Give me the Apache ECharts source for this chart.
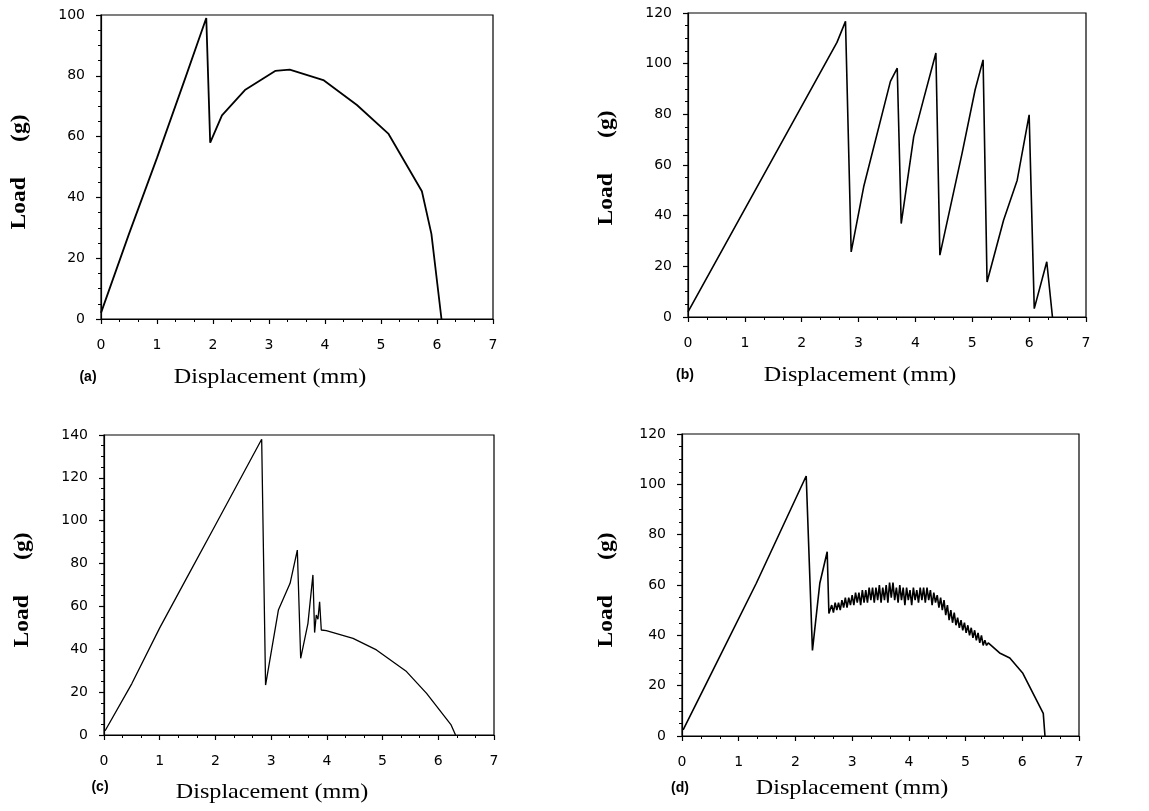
<!DOCTYPE html>
<html><head><meta charset="utf-8">
<script src="https://cdn.jsdelivr.net/npm/echarts@6/dist/echarts.min.js"></script>
<style>html,body{margin:0;padding:0;background:#fff}#c{width:1149px;height:811px}</style>
</head><body><div id="c"></div>
<script>
// Panel (a)
const dispA = [0, 0.5, 1.0, 1.5, 1.88, 1.95, 2.16, 2.57, 3.11, 3.37, 3.97, 4.57, 5.13, 5.73, 5.9, 6.08];
const loadA = [2, 28, 53, 79, 99, 58, 67, 75.3, 81.6, 82, 78.6, 70.4, 61, 42, 28, 0];
// Panel (b)
const dispB = [0, 2.62, 2.77, 2.87, 3.09, 3.56, 3.68, 3.75, 3.97, 4.14, 4.36, 4.43, 4.82, 5.05, 5.19, 5.26, 5.55, 5.79, 6.0, 6.09, 6.31, 6.41];
const loadB = [2, 108.4, 116.7, 25.7, 51.4, 93, 98.2, 36.9, 71.2, 85.7, 104.2, 24.4, 64.6, 89.7, 101.5, 13.8, 38.2, 54, 79.8, 3.3, 21.8, 0];
// Panel (c)
const dispC = [0.02, 0.5, 1.0, 1.5, 2.0, 2.83, 2.9, 3.13, 3.34, 3.47, 3.53, 3.66, 3.75, 3.78, 3.81, 3.84, 3.87, 3.9, 3.99, 4.47, 4.89, 5.43, 5.79, 6.23, 6.31];
const loadC = [2, 24, 50, 74, 98, 138, 23.3, 58.3, 70.8, 86.3, 35.8, 52, 74.7, 47.8, 56, 54, 62.2, 49, 48.7, 45.1, 39.7, 29.6, 19.4, 4.7, 0];
// Panel (d)
const dispD = [0.02, 0.43, 1.31, 2.19, 2.3, 2.43, 2.56, 2.59,
  2.62, 2.64, 2.67, 2.70, 2.73, 2.76, 2.79, 2.82, 2.85, 2.88, 2.91, 2.94, 2.97, 3.00,
  3.03, 3.06, 3.09, 3.12, 3.15, 3.18, 3.21, 3.24, 3.27, 3.30, 3.33, 3.36, 3.39, 3.42,
  3.45, 3.48, 3.51, 3.54, 3.57, 3.60, 3.63, 3.66, 3.69, 3.72, 3.75, 3.78, 3.81, 3.84,
  3.87, 3.90, 3.93, 3.96, 3.99, 4.02, 4.05, 4.08, 4.11, 4.14, 4.17, 4.20, 4.23, 4.26,
  4.29, 4.32, 4.35, 4.38, 4.41, 4.44, 4.47, 4.50, 4.53, 4.56, 4.59, 4.62, 4.65, 4.68,
  4.71, 4.74, 4.77, 4.80, 4.83, 4.86, 4.89, 4.92, 4.95, 4.98, 5.01, 5.04, 5.07, 5.10,
  5.13, 5.16, 5.19, 5.22, 5.25, 5.28, 5.31, 5.34, 5.37, 5.40, 5.45, 5.55, 5.6, 5.78,
  6.01, 6.37, 6.4];
const loadD = [2.4, 20.9, 60.7, 103.3, 34, 60.7, 73.2, 48.7,
  48, 52, 49, 53, 50, 53, 50, 54, 51, 55, 51, 55, 52, 56,
  52, 57, 53, 57, 52, 58, 53, 58, 53, 59, 54, 59, 53, 59,
  54, 60, 53, 59, 54, 60, 53, 61, 55, 61, 54, 59, 53, 60,
  54, 59, 52, 59, 54, 58, 52, 59, 54, 58, 53, 59, 54, 59,
  53, 59, 54, 58, 52, 57, 53, 56, 51, 55, 50, 54, 48, 52,
  46, 50, 45, 49, 44, 47, 43, 46, 42, 45, 41, 44, 40, 43,
  39, 42, 38, 41, 37, 40, 36, 38, 36, 37, 36, 34, 33, 31,
  24.9, 9, 0];

const panelLabels = ['(a)', '(b)', '(c)', '(d)'];
const xTitle = 'Displacement (mm)';
const yTitle = 'Load      (g)';
const yMaxes = [100, 120, 140, 120];
const yStep = 20;
const xMax = 7, xStep = 1;

const seriesX = [dispA, dispB, dispC, dispD];
const seriesY = [loadA, loadB, loadC, loadD];

const grids = [
  {left: 101, top: 15, width: 392, height: 304},
  {left: 688, top: 13, width: 398, height: 304},
  {left: 104, top: 435, width: 390, height: 300},
  {left: 682, top: 434, width: 397, height: 302}
];
const lineW = [1.8, 1.6, 1.3, 1.6];
const labelPos = [
  {lx: 88, ly: 377, dx: 270, dy: 377, yx: 20, yy: 172},
  {lx: 685, ly: 375, dx: 860, dy: 375, yx: 607, yy: 168},
  {lx: 100, ly: 787, dx: 272, dy: 792, yx: 23, yy: 590},
  {lx: 680, ly: 788, dx: 852, dy: 788, yx: 607, yy: 590}
];

const chart = echarts.init(document.getElementById('c'), null, {renderer: 'canvas'});
const axisCommon = {
  axisLine: {show: true, onZero: false, lineStyle: {color: '#000', width: 1.2}},
  axisTick: {show: true, inside: false, length: 5, lineStyle: {color: '#000', width: 1.2}},
  minorTick: {show: true, length: 3, lineStyle: {color: '#000', width: 1}},
  splitLine: {show: false},
  axisLabel: {color: '#000', fontFamily: 'DejaVu Sans, sans-serif', fontSize: 14}
};
const option = {
  animation: false,
  backgroundColor: '#fff',
  grid: grids.map(g => Object.assign({show: true, borderColor: '#000', borderWidth: 1.2, backgroundColor: 'transparent'}, g)),
  xAxis: grids.map((g, i) => Object.assign({}, axisCommon, {
    type: 'value', gridIndex: i, min: 0, max: xMax, interval: xStep,
    minorTick: Object.assign({}, axisCommon.minorTick, {splitNumber: 3}),
    axisLabel: Object.assign({}, axisCommon.axisLabel, {margin: 19})
  })),
  yAxis: grids.map((g, i) => Object.assign({}, axisCommon, {
    type: 'value', gridIndex: i, min: 0, max: yMaxes[i], interval: yStep,
    minorTick: Object.assign({}, axisCommon.minorTick, {splitNumber: 4}),
    axisLabel: Object.assign({}, axisCommon.axisLabel, {margin: 16})
  })),
  series: seriesX.map((xs, i) => ({
    type: 'line', xAxisIndex: i, yAxisIndex: i, showSymbol: false, symbol: 'none',
    lineStyle: {color: '#000', width: lineW[i]},
    data: xs.map((x, j) => [x, seriesY[i][j]])
  })),
  graphic: labelPos.flatMap((p, i) => [
    {type: 'text', x: p.lx, y: p.ly, style: {text: panelLabels[i], font: 'bold 14px Liberation Sans, Arial, sans-serif', fill: '#000', textAlign: 'center', textVerticalAlign: 'middle'}},
    {type: 'text', x: p.dx, y: p.dy, scaleX: 1.15, style: {text: xTitle, font: '21px Liberation Serif, Times New Roman, serif', fill: '#000', textAlign: 'center', textVerticalAlign: 'middle'}},
    {type: 'text', x: p.yx, y: p.yy, rotation: Math.PI / 2, scaleX: 1.12, style: {text: yTitle, font: 'bold 21px Liberation Serif, Times New Roman, serif', fill: '#000', textAlign: 'center', textVerticalAlign: 'middle'}}
  ])
};
chart.setOption(option);
</script></body></html>
